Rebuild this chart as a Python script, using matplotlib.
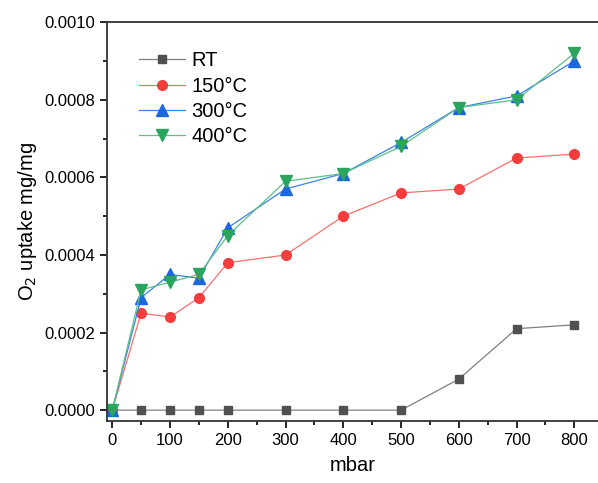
import matplotlib
matplotlib.use('Agg')
import matplotlib.pyplot as plt
from matplotlib.ticker import MultipleLocator, FormatStrFormatter

plt.rcParams['font.family'] = ['Liberation Sans', 'DejaVu Sans']

pressure = [0, 50, 100, 150, 200, 300, 400, 500, 600, 700, 800]
rt = [0, 0, 0, 0, 0, 0, 0, 0, 0.00008, 0.00021, 0.00022]
t150 = [0, 0.00025, 0.00024, 0.00029, 0.00038, 0.00040, 0.00050, 0.00056, 0.00057, 0.00065, 0.00066]
t300 = [0, 0.00029, 0.00035, 0.00034, 0.00047, 0.00057, 0.00061, 0.00069, 0.00078, 0.00081, 0.00090]
t400 = [0, 0.00031, 0.00033, 0.00035, 0.00045, 0.00059, 0.00061, 0.00068, 0.00078, 0.00080, 0.00092]

fig = plt.figure(figsize=(5.98, 4.83), dpi=100)
# axes box: left spine ~107px, top ~22px, x-axis ~421px
ax = fig.add_axes([0.179, 0.128, 0.822, 0.826])

series = [
    ("RT", rt, 's', 6.3, '#505050', '#808080'),
    ("150°C", t150, 'o', 7.0, '#f53d3d', '#f87070'),
    ("300°C", t300, '^', 8.0, '#1b67dc', '#3d80e8'),
    ("400°C", t400, 'v', 8.0, '#2aa55e', '#5cc08a'),
]
for lab, ys, mk, ms, mc, lc in series:
    ax.plot(pressure, ys, color=lc, lw=0.9, marker=mk, markersize=ms,
            markerfacecolor=mc, markeredgecolor=mc, label=lab)

ax.set_xlim(-9, 842)
ax.set_ylim(-0.0000284, 0.001)
ax.xaxis.set_major_locator(MultipleLocator(100))
ax.xaxis.set_minor_locator(MultipleLocator(50))
ax.yaxis.set_major_locator(MultipleLocator(0.0002))
ax.yaxis.set_minor_locator(MultipleLocator(0.0001))
ax.yaxis.set_major_formatter(FormatStrFormatter('%.4f'))
ax.tick_params(which='both', direction='out', top=False, right=False, labelsize=12)
ax.tick_params(which='major', length=5, width=1.2)
ax.tick_params(which='minor', length=3, width=1.2)
for s in ax.spines.values():
    s.set_linewidth(1.3)
    s.set_color('#333333')
ax.spines['right'].set_visible(False)

ax.set_xlabel("mbar", fontsize=14.5, labelpad=6)
ax.set_ylabel("O$_2$ uptake mg/mg", fontsize=14.5)

ax.legend(loc='upper left', bbox_to_anchor=(0.028, 0.973), frameon=False, fontsize=14.5,
          handlelength=2.3, labelspacing=0.32, handletextpad=0.3)

fig.savefig('out.png', dpi=100)
